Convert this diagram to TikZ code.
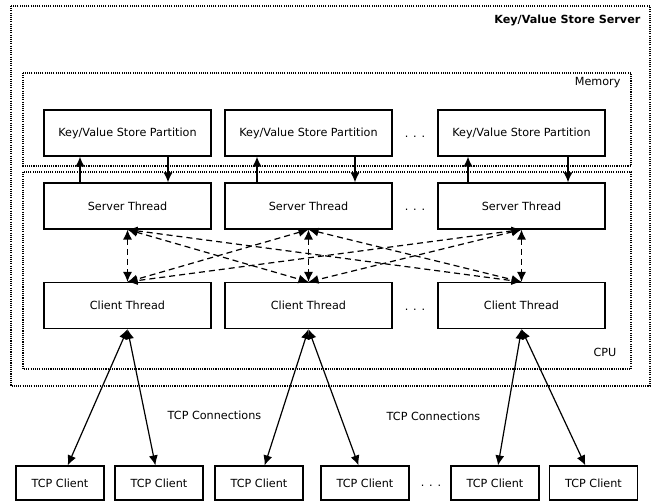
\documentclass[tikz,border=0pt]{standalone}
\usepackage{fontspec}
\setmainfont{DejaVu Sans}
\usetikzlibrary{arrows.meta}

\begin{document}
\begin{tikzpicture}[x=1pt, y=1pt, line width=1.2pt, node distance=73pt,
                    font=\fontsize{11.2}{13}\selectfont,
                    box node/.style={draw,rectangle,minimum width=167pt,minimum height=46pt,inner sep=0pt},
                    tcp node/.style={draw,rectangle,minimum width=88pt,minimum height=34pt,inner sep=0pt},
                    region/.style={line width=1.4pt,dash pattern=on 1.1pt off 1.1pt},
                    tag/.style={anchor=east,inner sep=0pt},
                    link/.style={{Latex[length=10pt,width=9pt]}-{Latex[length=10pt,width=9pt]}},
                    one way/.style={-{Latex[length=10pt,width=9pt]}},
                    cross link/.style={link,dash pattern=on 6pt off 4pt}]

  \useasboundingbox (0,0) rectangle (652,-502);

  % regions
  \draw[region] (11,-6) rectangle (650,-386);
  \draw[region] (23,-73) rectangle (631,-166);
  \draw[region] (23,-172) rectangle (631,-369);
  \node[tag,font=\fontsize{11.2}{13}\selectfont\bfseries] (title) at (641,-20) {Key/Value Store Server};
  \node[tag] (mem) at (621,-83) {Memory};
  \node[tag] (cpu) at (617,-352) {CPU};

  % partitions, server and client threads
  \node[box node] (k1) at (127.5,-133) {Key/Value Store Partition};
  \node[box node] (k2) at (308.5,-133) {Key/Value Store Partition};
  \node[box node] (k3) at (521.5,-133) {Key/Value Store Partition};
  \node[box node] (s1) [below of=k1] {Server Thread};
  \node[box node] (s2) [below of=k2] {Server Thread};
  \node[box node] (s3) [below of=k3] {Server Thread};
  \node[box node] (c1) [below of=s1, node distance=99.5pt] {Client Thread};
  \node[box node] (c2) [below of=s2, node distance=99.5pt] {Client Thread};
  \node[box node] (c3) [below of=s3, node distance=99.5pt] {Client Thread};

  % tcp clients
  \node[tcp node] (t1) at (60,-483) {TCP Client};
  \node[tcp node] (t2) at (159,-483) {TCP Client};
  \node[tcp node] (t3) at (259,-483) {TCP Client};
  \node[tcp node] (t4) at (365,-483) {TCP Client};
  \node[tcp node] (t5) at (495,-483) {TCP Client};
  \node[tcp node] (t6) at (593.5,-483) {TCP Client};

  \node (d1) at (415,-137) {. . .};
  \node (d2) at (415,-210) {. . .};
  \node (d3) at (415,-310) {. . .};
  \node (d4) at (431,-486) {. . .};

  \node (tc1) at (214.5,-415) {TCP Connections};
  \node (tc2) at (433.5,-416) {TCP Connections};

  \foreach \i/\u/\d in {1/-47.5/40.5, 2/-51.5/46.5, 3/-53.5/46.5} {
    \draw[one way] ([xshift=\u pt]s\i.north) -- ([xshift=\u pt]k\i.south);
    \draw[one way] ([xshift=\d pt]k\i.south) -- ([xshift=\d pt]s\i.north);
  }

  \foreach \i in {1,2,3}
    \foreach \j in {1,2,3}
      \draw[cross link] (s\i.south) -- (c\j.north);

  \draw[link] (c1.south) -- (t1);
  \draw[link] (c1.south) -- (t2);
  \draw[link] (c2.south) -- (t3);
  \draw[link] (c2.south) -- (t4);
  \draw[link] (c3.south) -- (t5);
  \draw[link] (c3.south) -- (t6);
\end{tikzpicture}
\end{document}
